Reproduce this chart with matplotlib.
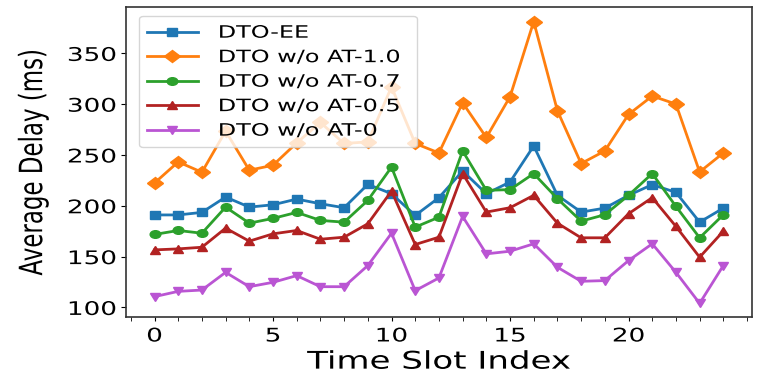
import matplotlib
matplotlib.use("Agg")
import matplotlib.pyplot as plt
from matplotlib.markers import MarkerStyle
from matplotlib.patheffects import AbstractPathEffect
from matplotlib.transforms import Affine2D
from matplotlib.ticker import MultipleLocator

# the reference looks horizontally stretched (~1.4x): text and markers are wide
SX = 1.4

# data
slots = list(range(25))
dto_ee = [191, 191, 193.5, 208.6, 198.7, 201, 206.6, 202, 198.1, 221.1, 211.9, 190.5, 208,
          234.3, 211.9, 223.4, 258.9, 210.3, 193.8, 197.7, 210.3, 220.8, 213.2, 183.9, 197.7]
at_10 = [222.4, 243.2, 233, 273.5, 235, 239.9, 261.9, 282, 261.3, 262.9, 317, 261.3, 252,
         301.4, 267.2, 307.3, 381.3, 293.5, 241.6, 254, 289.9, 308, 300.1, 233.3, 252]
at_07 = [171.8, 175.7, 173, 198.7, 182.9, 187.6, 193.5, 185.6, 183.9, 205.3, 238.1, 179, 188.8,
         254, 215.2, 215.9, 231.7, 207, 184.9, 191.2, 210.3, 231.7, 199.4, 168.5, 191.2]
at_05 = [156.6, 157.6, 159.2, 178, 165.2, 172.4, 175.7, 167.1, 169.1, 182.3, 214.5, 161.9, 169.1,
         231.7, 193.8, 198.1, 210.3, 182.9, 168.5, 168.5, 192.2, 208, 179.7, 149.4, 175]
at_00 = [110.6, 115.8, 117.1, 134.5, 120.4, 124.7, 131.3, 120.4, 120.4, 141.2, 173, 116.5, 129,
         189.5, 152.7, 155.3, 162.6, 139.5, 125.7, 126.4, 146.1, 162.6, 134.5, 104, 141.2]

labels = ["DTO-EE", "DTO w/o AT-1.0", "DTO w/o AT-0.7", "DTO w/o AT-0.5", "DTO w/o AT-0"]
series = [dto_ee, at_10, at_07, at_05, at_00]
colors = ["#1f77b4", "#ff7f0e", "#2ca02c", "#b22222", "#ba55d3"]
markers = ["s", "D", "o", "^", "v"]
msizes = [5.5, 6, 5.5, 5.5, 5.5]


class Stretch(AbstractPathEffect):
    """Widen a path horizontally around its left edge, right edge or centre."""

    def __init__(self, sx=SX, anchor="center"):
        super().__init__()
        self.sx = sx
        self.anchor = anchor

    def draw_path(self, renderer, gc, tpath, affine, rgbFace=None):
        bb = tpath.get_extents(affine)
        x0 = {"left": bb.x0, "right": bb.x1}.get(self.anchor, 0.5 * (bb.x0 + bb.x1))
        aff = affine + Affine2D().translate(-x0, 0).scale(self.sx, 1).translate(x0, 0)
        renderer.draw_path(gc, tpath, aff, rgbFace)


fig = plt.figure(figsize=(7.64, 3.82), dpi=100)
ax = fig.add_axes([0.165, 0.169, 0.819, 0.8115])

wide = Affine2D().scale(SX, 1)
for y, lab, c, m, ms in zip(series, labels, colors, markers, msizes):
    ax.plot(slots, y, color=c, lw=2, marker=MarkerStyle(m, transform=wide),
            ms=ms, label=lab)

ax.set_xticks([0, 5, 10, 15, 20])
ax.xaxis.set_minor_locator(MultipleLocator(1))
ax.set_yticks([100, 150, 200, 250, 300, 350])
ax.tick_params(axis="x", which="both", length=3, labelsize=13.5)
ax.tick_params(axis="y", length=3.5, labelsize=13.5)
for s in ax.spines.values():
    s.set_linewidth(1.2)
    s.set_color("#333333")

ax.set_xlabel("Time Slot Index", fontsize=17.5, labelpad=3)
ax.set_ylabel("Average Delay (ms)", fontsize=16.5, labelpad=26)

leg = ax.legend(loc="upper left", bbox_to_anchor=(0.007, 1.0), fontsize=12.3,
                handlelength=3.0, handletextpad=1.2, labelspacing=0.38,
                borderpad=0.45)

fig.canvas.draw()
for t in ax.get_xticklabels():
    t.set_path_effects([Stretch(anchor="center")])
for t in ax.get_yticklabels():
    t.set_path_effects([Stretch(anchor="right")])
ax.xaxis.label.set_path_effects([Stretch(anchor="center")])
ax.yaxis.label.set_path_effects([Stretch(anchor="center")])

# legend: stretch texts from their left edge, widen the frame to hold them
rend = fig.canvas.get_renderer()
wmax = max(t.get_window_extent(rend).width for t in leg.get_texts())
for t in leg.get_texts():
    t.set_path_effects([Stretch(anchor="left")])
fw = leg.get_frame().get_window_extent(rend).width
leg.get_frame().set_path_effects([Stretch(sx=(fw + wmax * (SX - 1) + 7) / fw, anchor="left")])

fig.savefig("out.png", dpi=100)
